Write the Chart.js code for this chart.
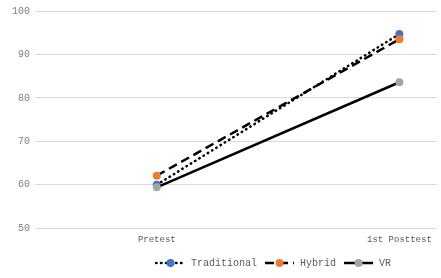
<!DOCTYPE html>
<html>
<head>
<meta charset="utf-8">
<script src="https://cdn.jsdelivr.net/npm/chart.js@4"></script>
<style>
html,body{margin:0;padding:0;background:#fff;}
#wrap{width:441px;height:278px;}
</style>
</head>
<body>
<div id="wrap"><canvas id="c" width="441" height="278"></canvas></div>
<script>
const categories = ["Pretest", "1st Posttest"];
const traditional = [60.0, 94.7];
const hybrid = [62.1, 93.5];
const vr = [59.4, 83.6];
const yTicks = [50, 60, 70, 80, 90, 100];

const FONT = "'Liberation Mono', monospace";

function legendImage(dash, color) {
  const cv = document.createElement('canvas');
  cv.width = 31; cv.height = 10;
  const g = cv.getContext('2d');
  g.strokeStyle = '#000';
  g.lineWidth = 2.5;
  g.lineCap = dash && dash[0] < 1 ? 'round' : 'butt';
  g.setLineDash(dash || []);
  g.beginPath(); g.moveTo(1, 5); g.lineTo(30, 5); g.stroke();
  g.setLineDash([]);
  g.fillStyle = color;
  g.beginPath(); g.arc(15.5, 5, 4, 0, Math.PI * 2); g.fill();
  return cv;
}

const series = [
  {label: 'Traditional', data: traditional, color: '#4472C4', dash: [0.5, 4.5], order: 3},
  {label: 'Hybrid', data: hybrid, color: '#ED7D31', dash: [9, 5], order: 2},
  {label: 'VR', data: vr, color: '#A5A5A5', dash: [], order: 1}
];

const datasets = series.map(s => ({
  label: s.label,
  data: s.data.map((v, i) => ({x: i, y: v})),
  borderColor: '#000',
  backgroundColor: s.color,
  pointBackgroundColor: s.color,
  pointBorderWidth: 0,
  pointRadius: 4,
  borderWidth: 2.5,
  borderDash: s.dash,
  borderCapStyle: s.dash.length && s.dash[0] < 1 ? 'round' : 'butt',
  tension: 0,
  order: s.order,
  _img: legendImage(s.dash, s.color)
}));

const shiftLegend = {
  id: 'shiftLegend',
  afterLayout(chart) {
    chart.legend.left += 50;
    chart.legend.right += 50;
  }
};

new Chart(document.getElementById('c'), {
  type: 'line',
  data: {datasets},
  plugins: [shiftLegend],
  options: {
    responsive: false,
    animation: false,
    layout: {padding: {top: 0, left: 5, right: 0, bottom: 0}},
    plugins: {
      tooltip: {enabled: false},
      legend: {
        position: 'bottom',
        labels: {
          usePointStyle: true,
          pointStyleWidth: 31,
          boxHeight: 10,
          padding: 7,
          color: '#595959',
          font: {family: FONT, size: 10},
          generateLabels(chart) {
            return chart.data.datasets.map((d, i) => ({
              text: d.label,
              pointStyle: d._img,
              fillStyle: d.backgroundColor,
              strokeStyle: '#000',
              lineWidth: 0,
              fontColor: '#595959',
              datasetIndex: i,
              hidden: false
            }));
          }
        }
      }
    },
    scales: {
      x: {
        type: 'linear',
        min: -0.502,
        max: 1.155,
        afterBuildTicks(axis) { axis.ticks = categories.map((c, i) => ({value: i})); },
        ticks: {
          callback: (v) => categories[v],
          color: '#595959',
          font: {family: FONT, size: 9},
          maxRotation: 0,
          padding: 6
        },
        grid: {display: false, drawTicks: false},
        border: {display: false}
      },
      y: {
        min: 50,
        max: 100,
        afterBuildTicks(axis) { axis.ticks = yTicks.map(v => ({value: v})); },
        afterFit(axis) { axis.width = 30; },
        ticks: {
          color: '#7f7f7f',
          font: {family: FONT, size: 10},
          padding: 5
        },
        grid: {color: '#d9d9d9', lineWidth: 1, drawTicks: false},
        border: {display: false}
      }
    }
  }
});
</script>
</body>
</html>
